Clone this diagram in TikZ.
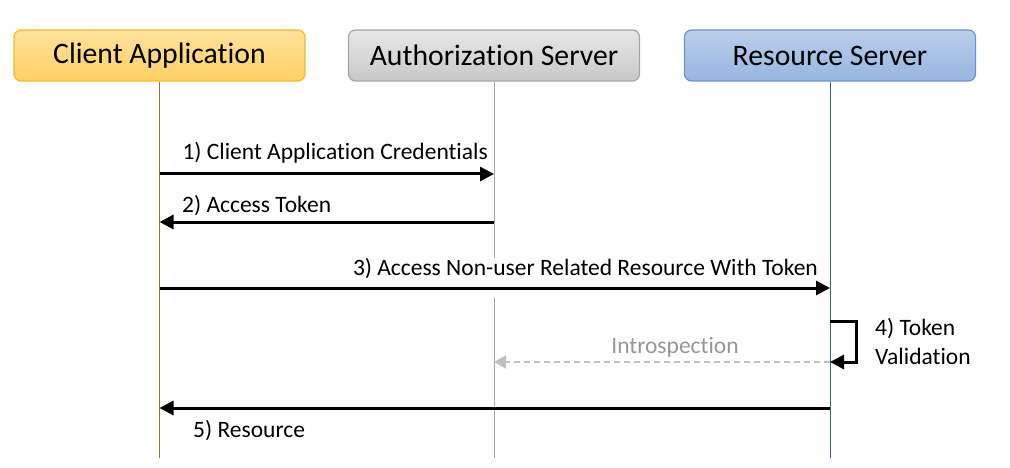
\documentclass[tikz,border=0pt]{standalone}
\usepackage{fontspec}
\setmainfont{Carlito}[Ligatures={NoCommon}]
\usetikzlibrary{calc,arrows.meta}
\definecolor{clienttop}{HTML}{FFE29C}
\definecolor{clientbot}{HTML}{FFD064}
\definecolor{clientedge}{HTML}{F2B92C}
\definecolor{clientline}{HTML}{A07810}
\definecolor{authtop}{HTML}{E8E8E8}
\definecolor{authbot}{HTML}{C8C8C8}
\definecolor{authedge}{HTML}{A5A5A5}
\definecolor{authline}{HTML}{A6A6A6}
\definecolor{restop}{HTML}{B9CFEB}
\definecolor{resbot}{HTML}{96B5E0}
\definecolor{resedge}{HTML}{6B95CE}
\definecolor{resline}{HTML}{3F5C9E}
\definecolor{introgray}{HTML}{BFBFBF}
\definecolor{introtext}{HTML}{969696}
\begin{document}
\begin{tikzpicture}[x=1pt,y=-1pt]
       \tikzstyle{head} = [rectangle, rounded corners=7pt, minimum width=291pt, minimum height=51pt, line width=1.2pt, font=\fontsize{29.7}{34}\selectfont];
       \tikzstyle{msg} = [line width=3pt, -{Triangle[length=14pt,width=14pt]}];
       \tikzstyle{lbl} = [inner sep=0pt, font=\fontsize{23.5}{29}\selectfont];
       \useasboundingbox (0,0) rectangle (1010,468);

       \node[head, draw=clientedge, top color=clienttop, bottom color=clientbot] (client) at (159.5,55.5) {Client Application};
       \node[head, draw=authedge, top color=authtop, bottom color=authbot] (auth) at (494,55.5) {Authorization Server};
       \node[head, draw=resedge, top color=restop, bottom color=resbot] (res) at (830,55.5) {Resource Server};

       % lifelines
       \coordinate (clientend) at (client.south |- 0,458);
       \coordinate (authend) at (auth.south |- 0,458);
       \coordinate (resend) at (res.south |- 0,458);
       \draw[clientline, line width=1pt] (client.south) -- (clientend);
       \draw[authline, line width=1pt] (auth.south) -- (authend);
       \draw[resline, line width=1pt] (res.south) -- (resend);

       \coordinate (c1) at (client.south |- 0,174);
       \coordinate (a1) at (auth.south |- 0,174);
       \coordinate (c2) at (client.south |- 0,222);
       \coordinate (a2) at (auth.south |- 0,222);
       \coordinate (c3) at (client.south |- 0,288);
       \coordinate (r3) at (res.south |- 0,288);
       \coordinate (r4a) at (res.south |- 0,321);
       \coordinate (r4b) at (res.south |- 0,362);
       \coordinate (a4) at (auth.south |- 0,362);
       \coordinate (c5) at (client.south |- 0,408);
       \coordinate (r5) at (res.south |- 0,408);

       \node[lbl, anchor=base east] (l1) at (488,160) {1) Client Application Credentials};
       \node[lbl, anchor=base west] (l2) at (182,212) {2) Access Token};
       \node[lbl, anchor=base east, fill=white, text depth=23pt] (l3) at (818,275) {3) Access Non-user Related Resource With Token};
       \node[lbl, anchor=north west, align=left] (l4) at (875,318) {4) Token\\Validation};
       \node[lbl, anchor=base, text=introtext] (intro) at (675,353) {Introspection};
       \node[lbl, anchor=base west] (l5) at (193,437) {5) Resource};

       \draw[msg] (c1) -- (a1);
       \draw[msg] (a2) -- (c2);
       \draw[msg] (c3) -- (r3);
       \draw[msg] (r4a) -- ++(26,0) |- (r4b);
       \draw[introgray, line width=2pt, dash pattern=on 6pt off 4pt, -{Triangle[length=12pt,width=13pt]}] (r4b) -- (a4);
       \draw[msg] (r5) -- (c5);
\end{tikzpicture}
\end{document}
